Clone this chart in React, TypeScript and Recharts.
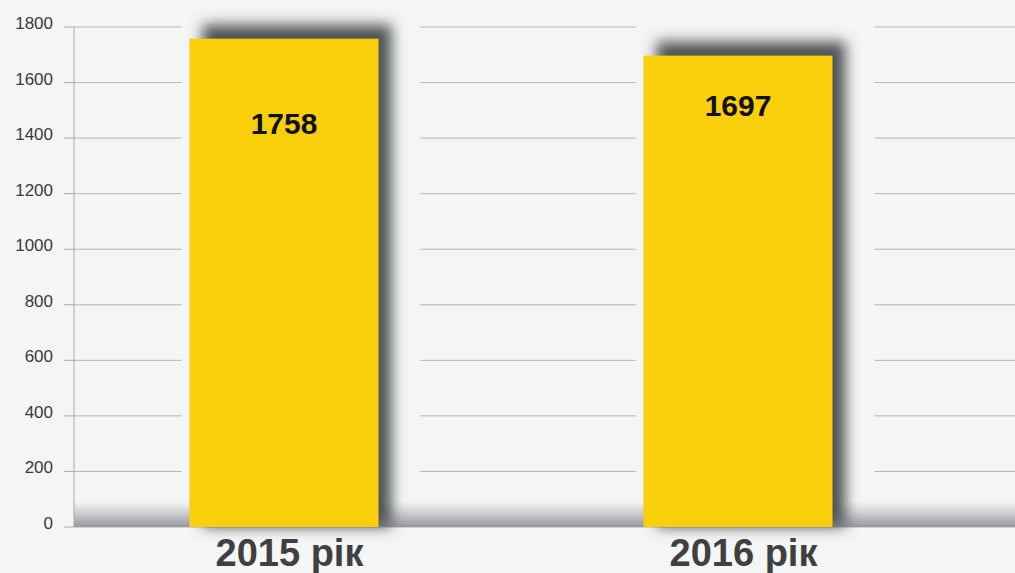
import React from 'react';
import { BarChart, Bar, XAxis, YAxis, CartesianGrid, ReferenceArea, LabelList } from 'recharts';

const categories = ['2015 рік', '2016 рік'];
const visits = [1758, 1697];
const yTicks = [0, 200, 400, 600, 800, 1000, 1200, 1400, 1600, 1800];

const data = categories.map((name, i) => ({ x: i, name, value: visits[i] }));

const BG = '#f4f5f5';
const YELLOW = '#f9cf0b';
const FONT = '"Liberation Sans", Arial, sans-serif';

// value labels are not at the same depth inside each bar
const labelDepth = [95, 60];

const ShadowBar = (props: any) => {
  const { x, y, width, height, index } = props;
  const bottom = y + height;
  const fid = `barShadow${index}`;
  return (
    <g>
      <defs>
        <filter id={fid} x="-30%" y="-30%" width="160%" height="160%">
          <feGaussianBlur stdDeviation={7} />
        </filter>
      </defs>
      {/* panel that hides the grid lines around the bar */}
      <rect x={x - 8} y={0} width={width + 50} height={bottom - 26} fill={BG} />
      <rect
        x={x + 13}
        y={y - 14}
        width={width}
        height={height + 14}
        fill="#505255"
        filter={`url(#${fid})`}
      />
      <rect x={x} y={y} width={width} height={height} fill={YELLOW} />
    </g>
  );
};

const ValueLabel = (props: any) => {
  const { x, y, width, value, index } = props;
  return (
    <text
      x={x + width / 2}
      y={y + labelDepth[index]}
      textAnchor="middle"
      fontFamily={FONT}
      fontWeight="bold"
      fontSize={30}
      fill="#111"
    >
      {value}
    </text>
  );
};

const YTick = (props: any) => {
  const { x, y, payload } = props;
  return (
    <text x={x} y={y + 2} textAnchor="end" fontFamily={FONT} fontSize={17} fill="#3a3a3a">
      {payload.value}
    </text>
  );
};

const XTick = (props: any) => {
  const { x, payload } = props;
  return (
    <text
      x={x + 5}
      y={566}
      textAnchor="middle"
      fontFamily={FONT}
      fontWeight="bold"
      fontSize={38}
      fill="#404040"
    >
      {categories[payload.value]}
    </text>
  );
};

export default function App() {
  return (
    <div style={{ position: 'absolute', left: 0, top: 0, width: 1015, height: 573, background: BG }}>
      <BarChart width={1015} height={573} data={data} margin={{ top: 27, right: 0, left: 0, bottom: 0 }}>
        <defs>
          <linearGradient id="floorGrad" x1="0" y1="0" x2="0" y2="1">
            <stop offset="0%" stopColor={BG} />
            <stop offset="30%" stopColor="#dcdddf" />
            <stop offset="100%" stopColor="#97979b" />
          </linearGradient>
        </defs>
        <CartesianGrid vertical={false} stroke="#b4b4b4" />
        <YAxis
          width={74}
          domain={[0, 1800]}
          ticks={yTicks}
          interval={0}
          axisLine={{ stroke: '#aaaaaa' }}
          tickLine={{ stroke: '#aaaaaa' }}
          tickSize={10}
          tickMargin={11}
          tick={<YTick />}
        />
        <XAxis
          type="number"
          dataKey="x"
          domain={[-0.4637, 1.609]}
          ticks={[0, 1]}
          interval={0}
          height={46}
          axisLine={false}
          tickLine={false}
          tick={<XTick />}
        />
        <ReferenceArea y1={0} y2={92} fill="url(#floorGrad)" fillOpacity={1} stroke="none" ifOverflow="hidden" />
        <Bar dataKey="value" barSize={189} shape={<ShadowBar />} isAnimationActive={false}>
          <LabelList dataKey="value" content={<ValueLabel />} />
        </Bar>
      </BarChart>
    </div>
  );
}
